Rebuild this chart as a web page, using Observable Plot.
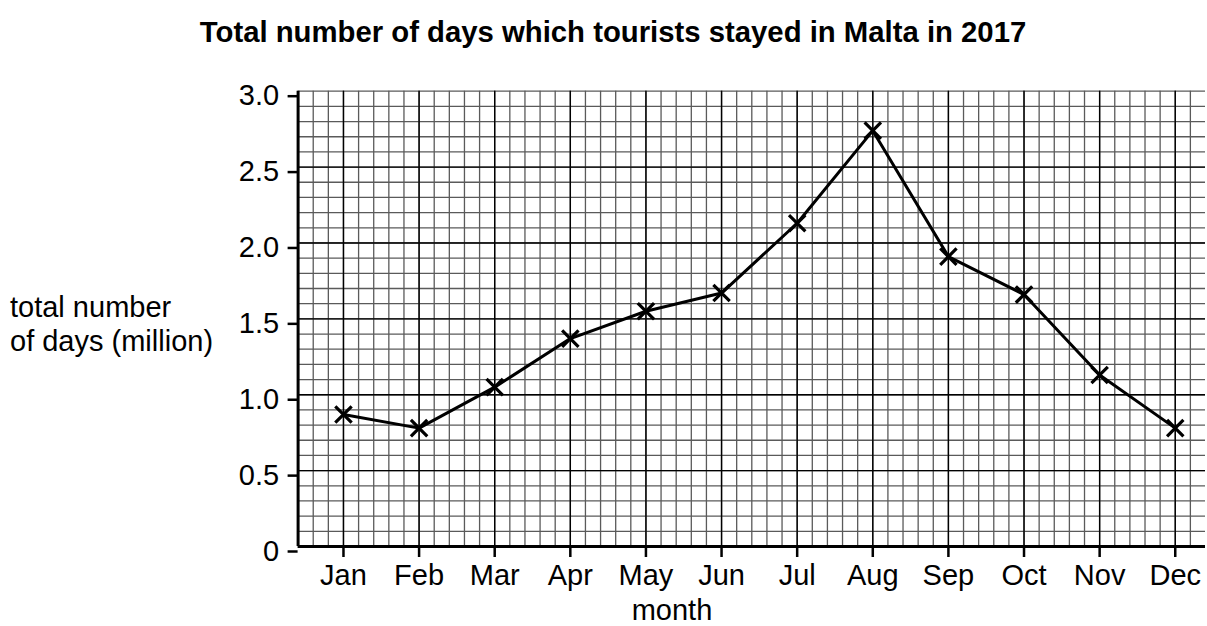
<!DOCTYPE html>
<html>
<head>
<meta charset="utf-8">
<script src="https://cdn.jsdelivr.net/npm/d3@7"></script>
<script src="https://cdn.jsdelivr.net/npm/@observablehq/plot@0.6"></script>
<style>
  html, body { margin: 0; padding: 0; background: #fff; }
  #wrap { position: relative; width: 1207px; height: 626px; overflow: hidden; font-family: "Liberation Sans", Arial, sans-serif; }
  #wrap > svg.overlay { position: absolute; left: 0; top: 0; pointer-events: none; }
</style>
</head>
<body>
<div id="wrap"></div>
<script>
// ---- data ----
const months = ["Jan", "Feb", "Mar", "Apr", "May", "Jun", "Jul", "Aug", "Sep", "Oct", "Nov", "Dec"];
const days = [0.87, 0.78, 1.05, 1.37, 1.55, 1.67, 2.13, 2.74, 1.91, 1.66, 1.13, 0.78];
const yTicks = [0, 0.5, 1.0, 1.5, 2.0, 2.5, 3.0];
const yTickLabels = ["0", "0.5", "1.0", "1.5", "2.0", "2.5", "3.0"];
const titleText = "Total number of days which tourists stayed in Malta in 2017";
const yLabelLines = ["total number", "of days (million)"];
const xLabelText = "month";

const data = months.map((m, i) => ({i, month: m, value: days[i]}));
const monthIdx = months.map((m, i) => i);

// graph-paper grid (0.1 units vertically, 1/5 month horizontally)
const minorX = d3.range(0, 60).map(k => -0.6 + k * 0.2).filter(v => v > -0.59 && v < 11.3);
const minorY = d3.range(1, 31).map(k => k / 10);

const W = 1207, H = 626;
const chart = Plot.plot({
  width: W,
  height: H,
  marginTop: 90.7,
  marginBottom: 80,
  marginLeft: 297.6,
  marginRight: 2,
  style: {background: "#fff", fontFamily: "'Liberation Sans', Arial, sans-serif", color: "#000"},
  x: {type: "linear", domain: [-0.6, 11.4]},
  y: {domain: [0, 3]},
  marks: [
    Plot.gridY(minorY, {stroke: "#5a5a5a", strokeOpacity: 1, strokeWidth: 1.3}),
    Plot.gridX(minorX, {stroke: "#5a5a5a", strokeOpacity: 1, strokeWidth: 1.3}),
    Plot.gridY(yTicks.filter(v => v > 0 && v < 3), {stroke: "#000", strokeOpacity: 1, strokeWidth: 1.4}),
    Plot.gridX(monthIdx, {stroke: "#000", strokeOpacity: 1, strokeWidth: 1.4}),
    Plot.ruleY([0], {stroke: "#000", strokeWidth: 3}),
    Plot.ruleX([-0.6], {stroke: "#000", strokeWidth: 3}),
    Plot.axisY(yTicks, {
      tickFormat: (d, k) => yTickLabels[k],
      tickSize: 10, tickPadding: 9, fontSize: 29, dy: 5,
      stroke: "#000", strokeWidth: 2.5, label: null, color: "#000"
    }),
    Plot.axisX(monthIdx, {
      tickFormat: d => months[d],
      tickSize: 11, tickPadding: 7, fontSize: 29,
      stroke: "#000", strokeWidth: 2.5, label: null
    }),
    Plot.line(data, {x: "i", y: "value", stroke: "#000", strokeWidth: 3}),
    Plot.dot(data, {x: "i", y: "value", symbol: "times", r: 7.5, stroke: "#000", strokeWidth: 3.2})
  ]
});
const wrap = document.getElementById("wrap");
wrap.appendChild(chart);

// text overlay (title, axis titles)
const ns = "http://www.w3.org/2000/svg";
const ov = document.createElementNS(ns, "svg");
ov.setAttribute("class", "overlay");
ov.setAttribute("width", W);
ov.setAttribute("height", H);
function addText(str, x, y, opts) {
  const t = document.createElementNS(ns, "text");
  t.textContent = str;
  t.setAttribute("x", x);
  t.setAttribute("y", y);
  t.setAttribute("font-family", "'Liberation Sans', Arial, sans-serif");
  t.setAttribute("font-size", opts.size || 29);
  if (opts.bold) t.setAttribute("font-weight", "bold");
  t.setAttribute("text-anchor", opts.anchor || "start");
  t.setAttribute("fill", "#000");
  ov.appendChild(t);
}
addText(titleText, 613, 42, {size: 29.3, bold: true, anchor: "middle"});
addText(yLabelLines[0], 10, 317, {size: 29});
addText(yLabelLines[1], 10, 351, {size: 29});
addText(xLabelText, 672, 620, {size: 29, anchor: "middle"});
wrap.appendChild(ov);
</script>
</body>
</html>
